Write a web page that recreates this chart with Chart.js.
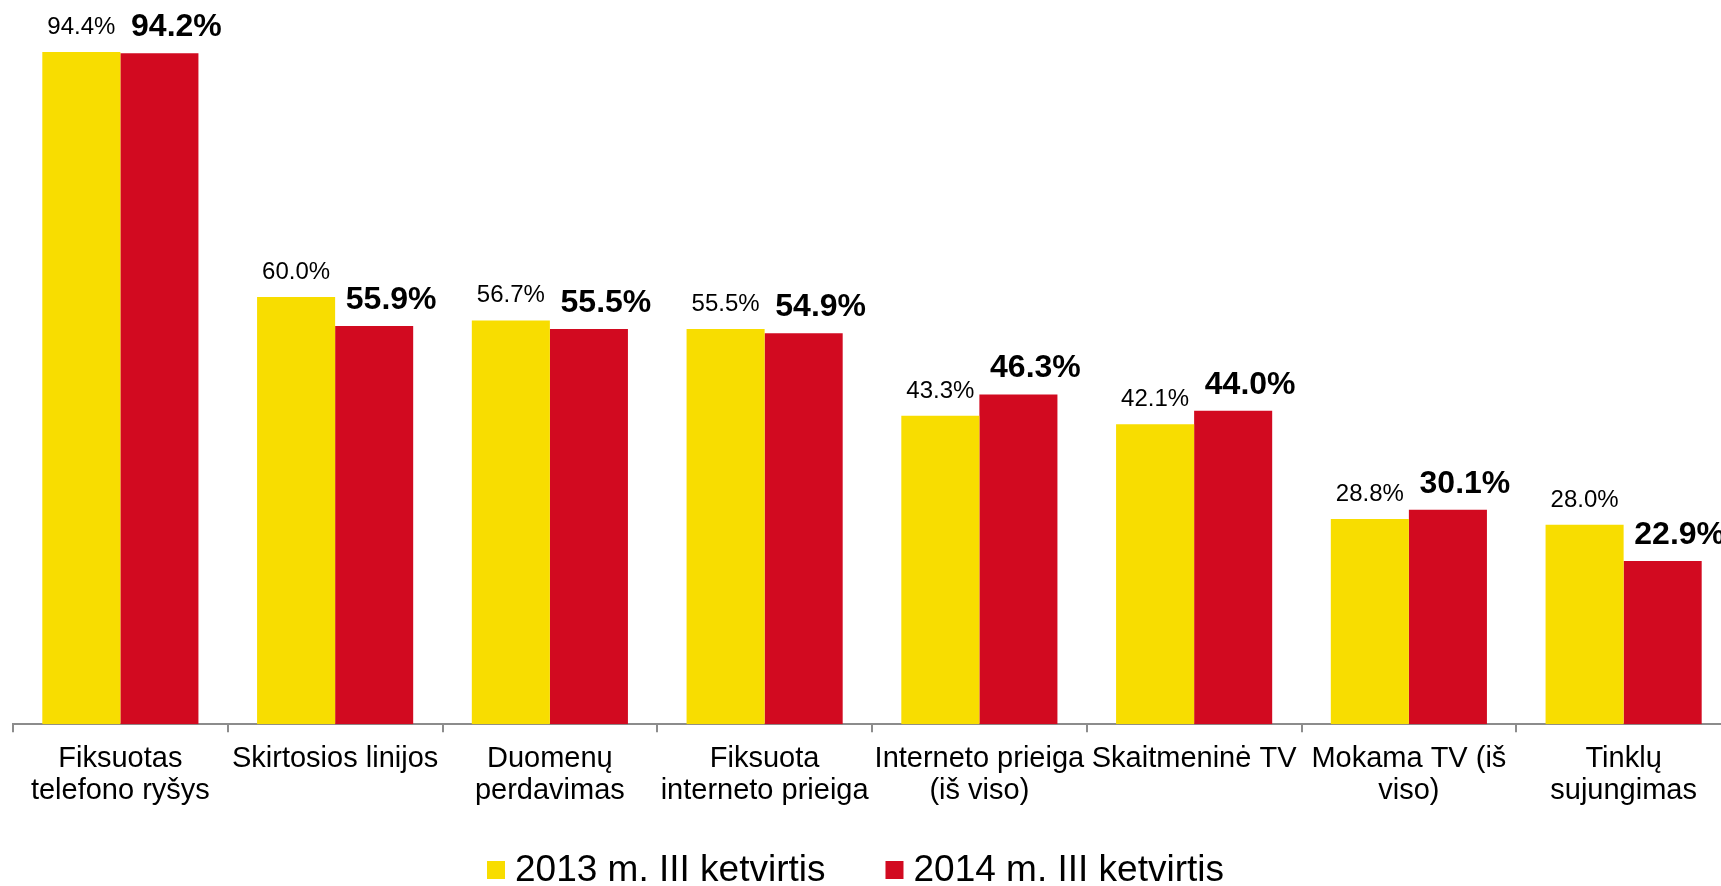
<!DOCTYPE html>
<html>
<head>
<meta charset="utf-8">
<script src="https://cdn.jsdelivr.net/npm/chart.js@4"></script>
<style>
    html, body { margin: 0; padding: 0; background: #fff; overflow: hidden; }
</style>
</head>
<body>
<canvas id="chart" width="1731" height="886"></canvas>
<script>
// categories and values
var categories = [
    ['Fiksuotas', 'telefono ryšys'],
    'Skirtosios linijos',
    ['Duomenų', 'perdavimas'],
    ['Fiksuota', 'interneto prieiga'],
    ['Interneto prieiga', '(iš viso)'],
    'Skaitmeninė TV',
    ['Mokama TV (iš', 'viso)'],
    ['Tinklų', 'sujungimas']
];
var seriesNames = ['2013 m. III ketvirtis', '2014 m. III ketvirtis'];
var values2013 = [94.4, 60.0, 56.7, 55.5, 43.3, 42.1, 28.8, 28.0];
var values2014 = [94.2, 55.9, 55.5, 54.9, 46.3, 44.0, 30.1, 22.9];

var YELLOW = '#f8dd00';
var RED = '#d20a20';

// value labels above the bars
var barLabels = {
    id: 'barLabels',
    afterDatasetsDraw: function (chart) {
        var ctx = chart.ctx;
        ctx.save();
        ctx.fillStyle = '#000';
        ctx.textAlign = 'center';
        ctx.textBaseline = 'alphabetic';
        chart.data.datasets.forEach(function (ds, i) {
            var meta = chart.getDatasetMeta(i);
            meta.data.forEach(function (bar, j) {
                var txt = ds.data[j].toFixed(1) + '%';
                if (i === 0) {
                    ctx.font = '24px "Liberation Sans", Arial, sans-serif';
                    ctx.fillText(txt, bar.x, bar.y - 18);
                } else {
                    ctx.font = 'bold 32px "Liberation Sans", Arial, sans-serif';
                    ctx.fillText(txt, bar.x + 17, bar.y - 17);
                }
            });
        });
        ctx.restore();
    }
};

// legend drawn under the axis labels
var bottomLegend = {
    id: 'bottomLegend',
    afterDraw: function (chart) {
        var ctx = chart.ctx;
        ctx.save();
        ctx.font = '37px "Liberation Sans", Arial, sans-serif';
        ctx.textBaseline = 'alphabetic';
        var x = 487;
        chart.data.datasets.forEach(function (ds) {
            ctx.fillStyle = ds.backgroundColor;
            ctx.fillRect(x, 861, 18, 18);
            ctx.fillStyle = '#000';
            ctx.fillText(ds.label, x + 28, 881);
            x += 28 + ctx.measureText(ds.label).width + 60;
        });
        ctx.restore();
    }
};

new Chart(document.getElementById('chart').getContext('2d'), {
    type: 'bar',
    data: {
        labels: categories,
        datasets: [
            { label: seriesNames[0], data: values2013, backgroundColor: YELLOW },
            { label: seriesNames[1], data: values2014, backgroundColor: RED }
        ]
    },
    options: {
        responsive: false,
        animation: false,
        events: [],
        datasets: {
            bar: { categoryPercentage: 0.727, barPercentage: 1.0 }
        },
        layout: { padding: { left: 13, right: 0, top: 12, bottom: 68 } },
        plugins: {
            legend: { display: false },
            tooltip: { enabled: false }
        },
        scales: {
            x: {
                grid: {
                    offset: true,
                    drawOnChartArea: false,
                    drawTicks: true,
                    tickLength: 8,
                    color: '#8c8c8c',
                    lineWidth: 2
                },
                border: { color: '#8c8c8c', width: 2 },
                ticks: {
                    autoSkip: false,
                    maxRotation: 0,
                    padding: 11,
                    color: '#000',
                    font: { family: '"Liberation Sans", Arial, sans-serif', size: 29, lineHeight: 1.1 }
                }
            },
            y: {
                display: false,
                min: 0,
                max: 100
            }
        }
    },
    plugins: [barLabels, bottomLegend]
});
</script>
</body>
</html>
